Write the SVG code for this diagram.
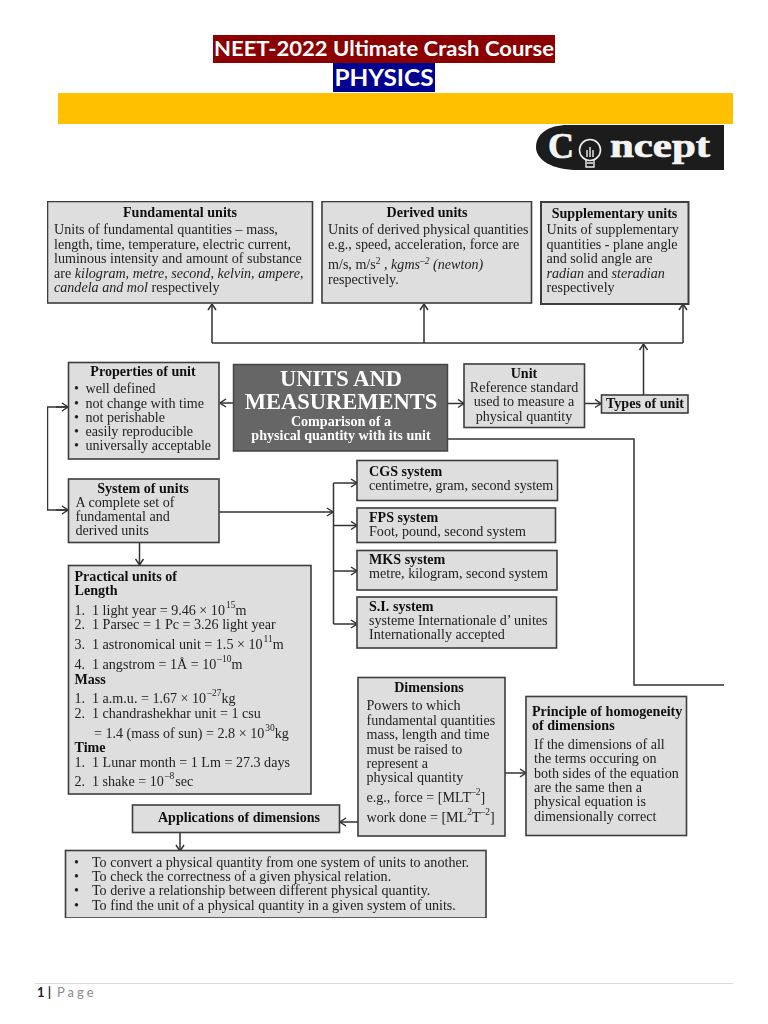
<svg xmlns="http://www.w3.org/2000/svg" width="768" height="1024" viewBox="0 0 768 1024">
<style>
.b{fill:#dedede;stroke:#3c3c3c;stroke-width:1.6}
text{font-family:"Liberation Serif","Times New Roman",serif;font-size:14.1px;fill:#222}
.t{font-weight:bold;fill:#111}
.c{text-anchor:middle}
.s{font-size:9.500px}
.i{font-style:italic}
.w{fill:#fff;font-weight:bold}
.h{font-family:Lato,"Open Sans",sans-serif;font-weight:700;fill:#fff}
.l{fill:none;stroke:#333;stroke-width:1.5}
.a{marker-end:url(#ar)}
.lg{font-weight:bold;fill:#f4f4f4;stroke:#f4f4f4;stroke-width:.7}
</style>
<defs>
<marker id="ar" viewBox="0 0 10 10" refX="9.500" refY="5" markerWidth="10" markerHeight="10" markerUnits="userSpaceOnUse" orient="auto"><path d="M3.500 1L9.500 5L3.500 9" fill="none" stroke="#333" stroke-width="1.5"/></marker>
<filter id="soft" x="0" y="0" width="1" height="1"><feGaussianBlur stdDeviation="0.35"/></filter>
</defs>
<g id="header">
<rect x="213" y="35" width="342" height="28" fill="#8b0000"/>
<text class="h" x="384" y="55.500" text-anchor="middle" style="font-size:20px" textLength="340" lengthAdjust="spacingAndGlyphs">NEET-2022 Ultimate Crash Course</text>
<rect x="333" y="63" width="102" height="29" fill="#000090"/>
<text class="h" x="384" y="86" text-anchor="middle" style="font-size:23.500px" textLength="99" lengthAdjust="spacingAndGlyphs">PHYSICS</text>
<rect x="58" y="93" width="675" height="31" fill="#ffc000"/>
</g>
<g id="logo">
<path d="M724 125V170H578C552 170 536 160 536 147C536 134 548 125 568 125Z" fill="#1c1c1c"/>
<text class="lg" x="548" y="158" style="font-size:36px">C</text>
<circle cx="590" cy="150" r="10.500" fill="none" stroke="#eee" stroke-width="1.600"/>
<path d="M586 159V167H594V159M587 163H593M587 157V150M590 157V147M593 157V150" fill="none" stroke="#eee" stroke-width="1.400"/>
<text class="lg" x="610" y="157" style="font-size:33px" textLength="100" lengthAdjust="spacingAndGlyphs">ncept</text>
</g>
<g filter="url(#soft)">
<g id="connectors">
<path class="l a" d="M212 343V304"/>
<path class="l" d="M212 343H683"/>
<path class="l a" d="M424 343V304"/>
<path class="l a" d="M683 343V304"/>
<path class="l a" d="M643.500 395V344"/>
<path class="l a" d="M233 403H220"/>
<path class="l a" d="M448 403.500H464"/>
<path class="l a" d="M585 403.500H601"/>
<path class="l" d="M448 439H634V685H724"/>
<path class="l" d="M68 407H47.500V510H68"/>
<path class="l a" d="M56 407H68"/>
<path class="l a" d="M56 510H68"/>
<path class="l a" d="M219 512H333"/>
<path class="l" d="M333.500 483V624"/>
<path class="l a" d="M333.500 483H357"/>
<path class="l a" d="M333.500 525.500H357"/>
<path class="l a" d="M333.500 571H357"/>
<path class="l a" d="M333.500 624H357"/>
<path class="l a" d="M139.500 543V565"/>
<path class="l a" d="M505 773H526"/>
<path class="l a" d="M358 822H340"/>
<path class="l a" d="M180 832V851"/>
</g>
<g id="fundamental">
<rect class="b" x="47.500" y="201.500" width="265" height="101.500"/>
<text class="t c" x="180" y="217">Fundamental units</text>
<text x="54" y="234">Units of fundamental quantities – mass,</text>
<text x="54" y="249">length, time, temperature, electric current,</text>
<text x="54" y="263">luminous intensity and amount of substance</text>
<text x="54" y="278">are <tspan class="i">kilogram, metre, second, kelvin, ampere,</tspan></text>
<text x="54" y="292"><tspan class="i">candela and mol</tspan> respectively</text>
</g>
<g id="derived">
<rect class="b" x="322" y="201.500" width="209.500" height="101.500"/>
<text class="t c" x="427" y="217">Derived units</text>
<text x="328" y="234">Units of derived physical quantities</text>
<text x="328" y="249">e.g., speed, acceleration, force are</text>
<text x="328" y="269">m/s, m/s<tspan class="s" dy="-5">2</tspan><tspan dy="5"> , </tspan><tspan class="i">kgms</tspan><tspan class="s i" dy="-5">–2</tspan><tspan class="i" dy="5"> (newton)</tspan></text>
<text x="328" y="284">respectively.</text>
</g>
<g id="supplementary">
<rect class="b" x="541" y="202" width="147.500" height="102" style="stroke-width:2"/>
<text class="t c" x="614.500" y="218">Supplementary units</text>
<text x="546.500" y="234">Units of supplementary</text>
<text x="546.500" y="249">quantities - plane angle</text>
<text x="546.500" y="263">and solid angle are</text>
<text x="546.500" y="278"><tspan class="i">radian</tspan> and <tspan class="i">steradian</tspan></text>
<text x="546.500" y="292">respectively</text>
</g>
<g id="properties">
<rect class="b" x="68.500" y="362.500" width="150.500" height="96.500"/>
<text class="t c" x="143" y="376">Properties of unit</text>
<text x="74" y="393">•</text><text x="85.500" y="393">well defined</text>
<text x="74" y="408">•</text><text x="85.500" y="408">not change with time</text>
<text x="74" y="422">•</text><text x="85.500" y="422">not perishable</text>
<text x="74" y="436">•</text><text x="85.500" y="436">easily reproducible</text>
<text x="74" y="450">•</text><text x="85.500" y="450">universally acceptable</text>
</g>
<g id="units-and-measurements">
<rect x="233.500" y="364.500" width="214" height="86.500" fill="#666" stroke="#444" stroke-width="1.500"/>
<text class="w c" x="341" y="386" style="font-size:22.500px">UNITS AND</text>
<text class="w c" x="341" y="408.500" style="font-size:22.500px">MEASUREMENTS</text>
<text class="w c" x="341" y="426">Comparison of a</text>
<text class="w c" x="341" y="440">physical quantity with its unit</text>
</g>
<g id="unit">
<rect class="b" x="464" y="364" width="120.500" height="63.500"/>
<text class="t c" x="524" y="378">Unit</text>
<text class="c" x="524" y="392">Reference standard</text>
<text class="c" x="524" y="406">used to measure a</text>
<text class="c" x="524" y="421">physical quantity</text>
</g>
<g id="types">
<rect class="b" x="601.500" y="395" width="86.500" height="18"/>
<text class="t c" x="645" y="408">Types of unit</text>
</g>
<g id="system">
<rect class="b" x="68.500" y="479" width="150.500" height="63.500"/>
<text class="t c" x="143" y="492.500">System of units</text>
<text x="75.500" y="506.500">A complete set of</text>
<text x="75.500" y="520.500">fundamental and</text>
<text x="75.500" y="535">derived units</text>
</g>
<g id="cgs">
<rect class="b" x="357" y="460.500" width="200.500" height="40"/>
<text class="t" x="369" y="476">CGS system</text>
<text x="369" y="490">centimetre, gram, second system</text>
</g>
<g id="fps">
<rect class="b" x="357" y="508" width="198.500" height="34.500"/>
<text class="t" x="369" y="522">FPS system</text>
<text x="369" y="536">Foot, pound, second system</text>
</g>
<g id="mks">
<rect class="b" x="357" y="550.500" width="200" height="39.500"/>
<text class="t" x="369" y="564">MKS system</text>
<text x="369" y="578">metre, kilogram, second system</text>
</g>
<g id="si">
<rect class="b" x="357" y="597" width="199.500" height="51"/>
<text class="t" x="369" y="611">S.I. system</text>
<text x="369" y="625">systeme Internationale d’ unites</text>
<text x="369" y="639">Internationally accepted</text>
</g>
<g id="practical">
<rect class="b" x="68.500" y="565.500" width="242.500" height="228.500"/>
<text class="t" x="74.500" y="581">Practical units of</text>
<text class="t" x="74.500" y="595">Length</text>
<text x="74.500" y="615">1.</text><text x="92" y="615">1 light year = 9.46 × 10<tspan class="s" dx="1" dy="-7">15</tspan><tspan dy="7">m</tspan></text>
<text x="74.500" y="629">2.</text><text x="92" y="629">1 Parsec = 1 Pc = 3.26 light year</text>
<text x="74.500" y="649">3.</text><text x="92" y="649">1 astronomical unit = 1.5 × 10<tspan class="s" dx="1" dy="-7">11</tspan><tspan dy="7">m</tspan></text>
<text x="74.500" y="669">4.</text><text x="92" y="669">1 angstrom = 1Å = 10<tspan class="s" dx="1" dy="-7">–10</tspan><tspan dy="7">m</tspan></text>
<text class="t" x="74.500" y="684">Mass</text>
<text x="74.500" y="703">1.</text><text x="92" y="703">1 a.m.u. = 1.67 × 10<tspan class="s" dx="1" dy="-7">–27</tspan><tspan dy="7">kg</tspan></text>
<text x="74.500" y="718">2.</text><text x="92" y="718">1 chandrashekhar unit = 1 csu</text>
<text x="94" y="738">= 1.4 (mass of sun) = 2.8 × 10<tspan class="s" dx="1" dy="-7">30</tspan><tspan dy="7">kg</tspan></text>
<text class="t" x="74.500" y="752">Time</text>
<text x="74.500" y="767">1.</text><text x="92" y="767">1 Lunar month = 1 Lm = 27.3 days</text>
<text x="74.500" y="786">2.</text><text x="92" y="786">1 shake = 10<tspan class="s" dx="1" dy="-7">–8</tspan><tspan dx="1" dy="7">sec</tspan></text>
</g>
<g id="dimensions">
<rect class="b" x="358" y="677.500" width="147" height="158.500"/>
<text class="t c" x="429" y="692">Dimensions</text>
<text x="366.500" y="710">Powers to which</text>
<text x="366.500" y="725">fundamental quantities</text>
<text x="366.500" y="739">mass, length and time</text>
<text x="366.500" y="754">must be raised to</text>
<text x="366.500" y="768">represent a</text>
<text x="366.500" y="782">physical quantity</text>
<text x="366.500" y="802">e.g., force = [MLT<tspan class="s" dy="-7">–2</tspan><tspan dy="7">]</tspan></text>
<text x="366.500" y="822">work done = [ML<tspan class="s" dy="-7">2</tspan><tspan dy="7">T</tspan><tspan class="s" dy="-7">–2</tspan><tspan dy="7">]</tspan></text>
</g>
<g id="principle">
<rect class="b" x="526" y="696.500" width="160.500" height="139"/>
<text class="t" x="532" y="716">Principle of homogeneity</text>
<text class="t" x="532" y="730">of dimensions</text>
<text x="534" y="749">If the dimensions of all</text>
<text x="534" y="763">the terms occuring on</text>
<text x="534" y="778">both sides of the equation</text>
<text x="534" y="792">are the same then a</text>
<text x="534" y="806">physical equation is</text>
<text x="534" y="821">dimensionally correct</text>
</g>
<g id="applications">
<rect class="b" x="132.500" y="805" width="207" height="27.500"/>
<text class="t c" x="239" y="822">Applications of dimensions</text>
</g>
<g id="uses">
<rect class="b" x="65.500" y="850.500" width="420.500" height="67.500"/>
<text x="74" y="867">•</text><text x="92" y="867">To convert a physical quantity from one system of units to another.</text>
<text x="74" y="881">•</text><text x="92" y="881">To check the correctness of a given physical relation.</text>
<text x="74" y="895">•</text><text x="92" y="895">To derive a relationship between different physical quantity.</text>
<text x="74" y="910">•</text><text x="92" y="910">To find the unit of a physical quantity in a given system of units.</text>
</g>
</g>
<g id="footer">
<path d="M35 983.500H733" stroke="#d9d9d9" stroke-width="1"/>
<text x="37" y="997" style="font-family:Lato,'Open Sans',sans-serif;font-size:13px;font-weight:bold;fill:#222">1 |</text>
<text x="57" y="997" style="font-family:Lato,'Open Sans',sans-serif;font-size:13px;fill:#8a8a8a;letter-spacing:3px">Page</text>
</g>
</svg>
